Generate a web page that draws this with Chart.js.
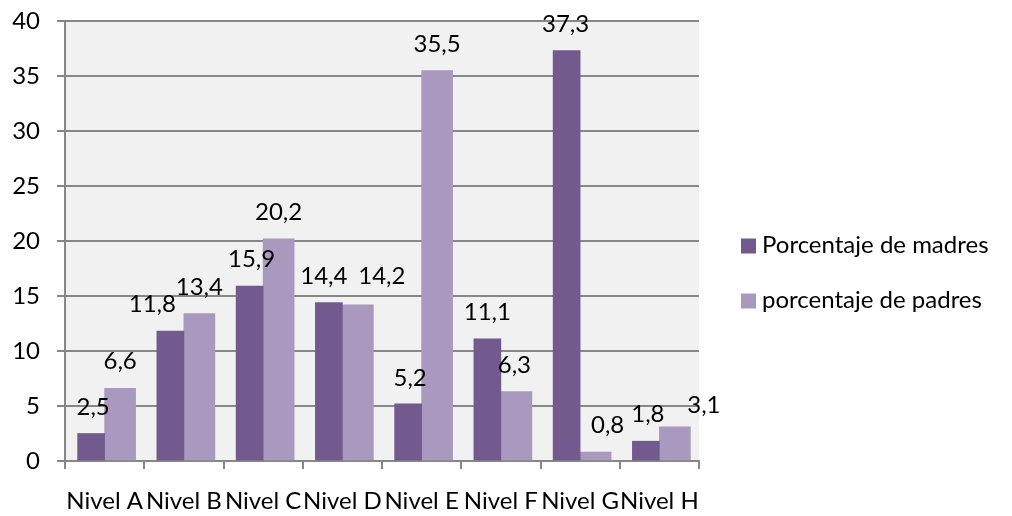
<!DOCTYPE html>
<html>
<head>
<meta charset="utf-8">
<script src="https://cdn.jsdelivr.net/npm/chart.js@4/dist/chart.umd.min.js"></script>
<style>
html,body{margin:0;padding:0;background:#ffffff;}
#wrap{width:1012px;height:516px;position:relative;}
</style>
</head>
<body>
<div id="wrap"><canvas id="c" width="1012" height="516"></canvas></div>
<script>
const categories = ['Nivel A','Nivel B','Nivel C','Nivel D','Nivel E','Nivel F','Nivel G','Nivel H'];
const madres = [2.5, 11.8, 15.9, 14.4, 5.2, 11.1, 37.3, 1.8];
const padres = [6.6, 13.4, 20.2, 14.2, 35.5, 6.3, 0.8, 3.1];
const seriesNames = ['Porcentaje de madres', 'porcentaje de padres'];
const yMin = 0, yMax = 40, yStep = 5;

const FONT = 'Lato, "Open Sans", sans-serif';
const FS = 24;
const GRID = '#878787';
const C_MADRES = '#72598e';
const C_PADRES = '#a999be';

// per-label nudges (pixels) for the value labels, as placed in the original
const labelNudges = [
  [[2,0],[-18,0],[2,0],[-5,0],[2,1],[0,0],[-1,0],[2,0]],
  [[0,0],[0,0],[0,0],[24,-2],[0,0],[-2,0],[12,0],[29,5]]
];

const bgPlugin = {
  id: 'plotBg',
  beforeDraw(chart) {
    const a = chart.chartArea, ctx = chart.ctx;
    ctx.save();
    ctx.fillStyle = '#f1f1f1';
    ctx.fillRect(a.left, a.top, a.right - a.left, a.bottom - a.top);
    ctx.restore();
  }
};

const valueLabels = {
  id: 'valueLabels',
  afterDatasetsDraw(chart) {
    const ctx = chart.ctx;
    ctx.save();
    ctx.font = FS + 'px ' + FONT;
    ctx.fillStyle = '#000000';
    ctx.textAlign = 'center';
    ctx.textBaseline = 'alphabetic';
    chart.data.datasets.forEach((ds, di) => {
      const meta = chart.getDatasetMeta(di);
      meta.data.forEach((bar, i) => {
        const v = ds.data[i];
        const txt = v.toFixed(1).replace('.', ',');
        const n = labelNudges[di][i];
        ctx.fillText(txt, bar.x + n[0], bar.y - 19 + n[1]);
      });
    });
    ctx.restore();
  }
};

const sideLegend = {
  id: 'sideLegend',
  afterDraw(chart) {
    const ctx = chart.ctx;
    ctx.save();
    ctx.font = FS + 'px ' + FONT;
    ctx.textAlign = 'left';
    ctx.textBaseline = 'middle';
    const x = 741, y0 = 246, gap = 55;
    chart.data.datasets.forEach((ds, di) => {
      const y = y0 + di * gap;
      ctx.fillStyle = ds.backgroundColor;
      ctx.fillRect(x, y - 7.5, 15, 15);
      ctx.fillStyle = '#000000';
      ctx.fillText(ds.label, x + 21, y - 1);
    });
    ctx.restore();
  }
};

new Chart(document.getElementById('c'), {
  type: 'bar',
  data: {
    labels: categories,
    datasets: [
      { label: seriesNames[0], data: madres, backgroundColor: C_MADRES, borderWidth: 0, barThickness: 27 },
      { label: seriesNames[1], data: padres, backgroundColor: C_PADRES, borderWidth: 0, barThickness: 31 }
    ]
  },
  options: {
    responsive: false,
    animation: false,
    layout: { padding: { top: 21, right: 313, left: 0, bottom: 0 } },
    plugins: {
      legend: { display: false },
      tooltip: { enabled: false }
    },
    scales: {
      x: {
        offset: true,
        grid: { display: true, drawOnChartArea: false, drawTicks: true, tickLength: 8, color: GRID, lineWidth: 2, offset: true },
        border: { display: true, color: GRID, width: 2 },
        ticks: { color: '#000000', font: { family: FONT, size: FS }, padding: 18, maxRotation: 0, autoSkip: false },
        afterFit(s) { s.height = 55; s.paddingLeft = 0; s.paddingRight = 0; }
      },
      y: {
        min: yMin, max: yMax,
        ticks: { stepSize: yStep, color: '#000000', font: { family: FONT, size: FS }, padding: 17 },
        grid: { color: GRID, lineWidth: 2, tickLength: 8, drawTicks: true },
        border: { display: true, color: GRID, width: 2 },
        afterFit(s) { s.width = 65; s.paddingTop = 0; s.paddingBottom = 0; }
      }
    }
  },
  plugins: [bgPlugin, valueLabels, sideLegend]
});
</script>
</body>
</html>
